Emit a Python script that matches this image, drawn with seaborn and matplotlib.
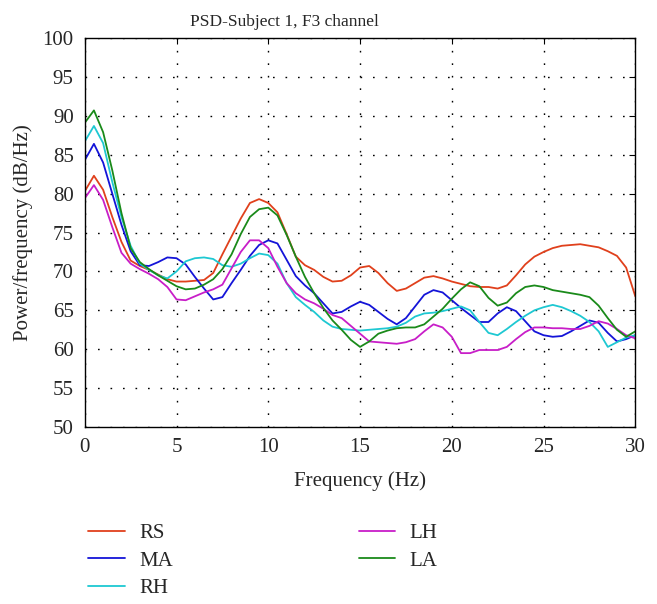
import numpy as np
import pandas as pd
import matplotlib
matplotlib.use("Agg")
import matplotlib.pyplot as plt
import seaborn as sns

# ---- data (0.5 Hz steps) ----
freq = np.arange(0, 30.01, 0.5)

rs = [80.3, 82.3, 80.5, 77.0, 73.8, 71.4, 70.7, 70.2, 69.6, 69.0, 68.7, 68.7, 68.8, 68.9, 69.8,
      72.2, 74.5, 76.8, 78.8, 79.3, 78.8, 77.6, 74.8, 71.9, 70.8, 70.2, 69.3, 68.7, 68.8, 69.5,
      70.5, 70.7, 69.8, 68.5, 67.5, 67.8, 68.5, 69.2, 69.4, 69.1, 68.7, 68.4, 68.1, 68.0, 68.0,
      67.8, 68.2, 69.5, 70.9, 71.9, 72.5, 73.0, 73.3, 73.4, 73.5, 73.3, 73.1, 72.6, 72.0, 70.5, 66.8]
ma = [84.3, 86.4, 84.0, 80.0, 76.0, 72.6, 70.8, 70.7, 71.2, 71.8, 71.7, 70.9, 69.3, 67.8, 66.4,
      66.7, 68.5, 70.2, 72.0, 73.4, 74.0, 73.6, 71.5, 69.4, 68.2, 67.2, 65.9, 64.6, 64.8, 65.5,
      66.1, 65.7, 64.8, 63.9, 63.2, 64.0, 65.5, 67.0, 67.6, 67.3, 66.3, 65.3, 64.4, 63.5, 63.5,
      64.6, 65.4, 64.9, 63.6, 62.3, 61.8, 61.6, 61.7, 62.3, 63.0, 63.7, 63.4, 62.1, 61.0, 61.3, 61.8]
rh = [86.7, 88.7, 86.5, 81.5, 77.0, 73.3, 71.0, 70.2, 69.5, 69.1, 70.0, 71.3, 71.7, 71.8, 71.6,
      70.8, 70.6, 71.0, 71.7, 72.3, 72.1, 71.0, 68.5, 66.7, 65.7, 64.8, 63.7, 62.9, 62.6, 62.5,
      62.4, 62.5, 62.6, 62.7, 62.9, 63.4, 64.2, 64.6, 64.7, 64.9, 65.2, 65.5, 65.0, 63.5, 62.1,
      61.8, 62.6, 63.5, 64.3, 65.0, 65.4, 65.7, 65.4, 64.9, 64.3, 63.5, 62.3, 60.3, 60.9, 61.5, 61.8]
lh = [79.4, 81.1, 79.2, 75.7, 72.4, 71.0, 70.3, 69.7, 69.0, 68.0, 66.4, 66.3, 66.8, 67.3, 67.7,
      68.3, 70.4, 72.5, 74.0, 74.0, 73.0, 70.6, 68.5, 67.2, 66.4, 65.9, 65.2, 64.4, 64.0, 63.0,
      62.0, 61.0, 60.9, 60.8, 60.7, 60.9, 61.3, 62.3, 63.2, 62.8, 61.6, 59.5, 59.5, 59.9, 59.9,
      59.9, 60.3, 61.3, 62.2, 62.8, 62.8, 62.7, 62.7, 62.6, 62.6, 63.0, 63.6, 63.3, 62.6, 61.8, 61.4]
la = [89.1, 90.7, 87.9, 83.0, 77.5, 73.0, 71.2, 70.3, 69.5, 68.8, 68.1, 67.7, 67.8, 68.3, 69.0,
      70.3, 72.2, 74.8, 77.0, 78.0, 78.2, 77.2, 74.7, 71.9, 69.3, 67.2, 65.3, 63.7, 62.5, 61.2,
      60.3, 61.0, 62.0, 62.4, 62.7, 62.8, 62.8, 63.2, 64.2, 65.2, 66.5, 67.7, 68.6, 68.1, 66.6,
      65.6, 66.0, 67.2, 68.0, 68.2, 68.0, 67.6, 67.4, 67.2, 67.0, 66.7, 65.6, 64.0, 62.5, 61.6, 62.3]

conditions = ["RS", "MA", "RH", "LH", "LA"]
colors = ["#e0401c", "#1414d8", "#1ec8d2", "#c81ec8", "#1a8a1a"]

df = pd.concat([
    pd.DataFrame({"freq": freq, "power": vals, "cond": name})
    for name, vals in zip(conditions, [rs, ma, rh, lh, la])
])

# ---- style ----
sns.set_style("white")
plt.rcParams["font.family"] = ["Liberation Serif", "DejaVu Serif"]

fig = plt.figure(figsize=(6.57, 6.04), dpi=100)
ax = fig.add_axes([0.129, 0.293, 0.838, 0.644])

sns.lineplot(data=df, x="freq", y="power", hue="cond", hue_order=conditions,
             palette=colors, linewidth=1.3, ax=ax, legend=False)

ax.set_xlim(0, 30)
ax.set_ylim(50, 100)
ax.set_xticks(range(0, 31, 5))
ax.set_yticks(range(50, 101, 5))
ax.grid(True, linestyle=(0, (1.2, 7.8)), color="black", linewidth=1.0)
ax.tick_params(direction="in", top=True, right=True, length=4, labelsize=15,
               color="black", pad=8)
for s in ax.spines.values():
    s.set_color("black")
    s.set_linewidth(1.0)

# title sits left of centre in the original
ax.set_title("PSD-Subject 1, F3 channel", fontsize=12.5, x=0.362, pad=9)
ax.set_xlabel("Frequency (Hz)", fontsize=15, labelpad=10)
ax.set_ylabel("Power/frequency (dB/Hz)", fontsize=15, labelpad=7)

handles = ax.get_lines()[:len(conditions)]
fig.legend(handles, conditions, loc="upper left", bbox_to_anchor=(0.122, 0.147),
           ncol=2, frameon=False, fontsize=15, handlelength=1.75,
           columnspacing=8.9, labelspacing=0.38, handletextpad=0.7,
           borderaxespad=0)

fig.savefig("out.png", dpi=100)
